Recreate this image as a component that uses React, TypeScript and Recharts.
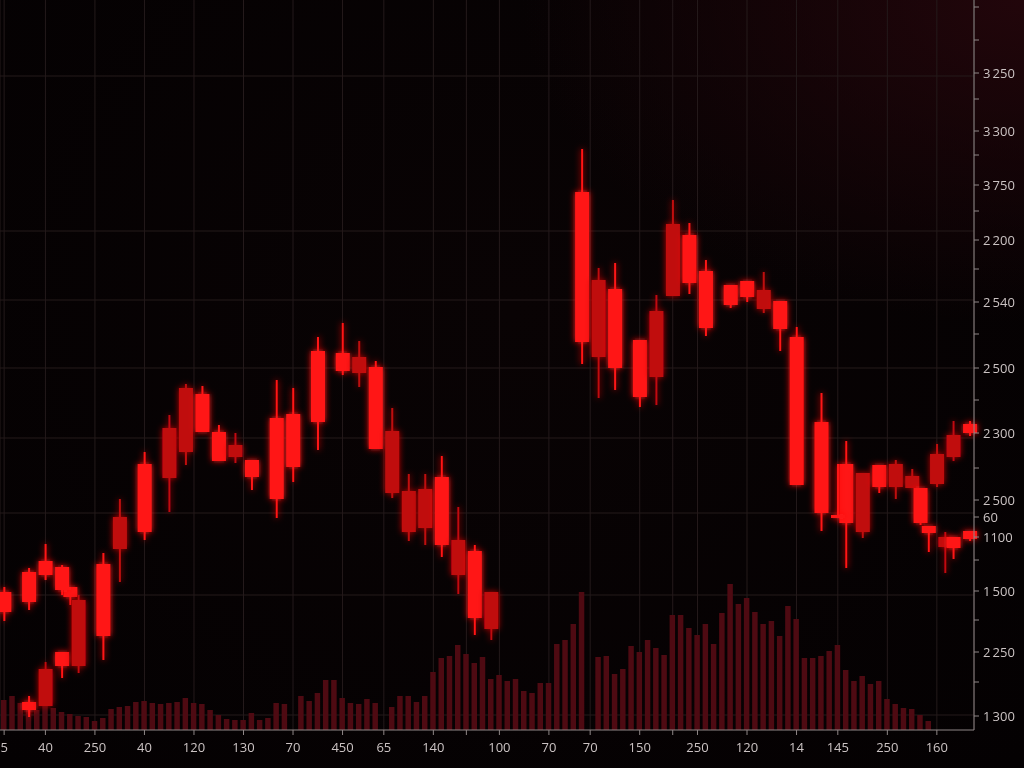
import React from "react";
import { ComposedChart, Bar, XAxis, YAxis, CartesianGrid } from "recharts";

// 118 time slots share one category axis (volume prints + candles)
const SLOT_COUNT = 118;

// volume per slot, null where nothing printed
const volume: (number | null)[] = [
  30, 34, 27, 24, 20, 24, 22, 18, 16, 14, 13, 9, 12, 21, 23, 24, 28, 29, 27, 26,
  27, 28, 32, 27, 26, 20, 15, 11, 10, 10, 17, 10, 12, 27, 26, null, 34, 29, 37, 50,
  50, 32, 27, 26, 31, 27, null, 23, 34, 34, 28, 34, 58, 72, 74, 85, 76, 67, 73, 51,
  55, 49, 51, 39, 37, 47, 47, 86, 90, 106, 138, null, 73, 74, 56, 61, 84, 78, 90, 82,
  75, 115, 115, 102, 95, 106, 86, 117, 146, 126, 132, 118, 106, 109, 94, 124, 111, 72, 72, 74,
  79, 85, 60, 49, 54, 46, 49, 31, 26, 22, 21, 15, 9, null, null, null, null, null,
];

// candles: slot, track (two overlapping tracks), open, close, high, low, tone
const candleSlot = [
  3, 5, 7, 8, 9, 12, 14, 17, 20, 22, 24, 26, 28, 30, 33, 35, 38, 41, 43, 45,
  47, 49, 51, 53, 55, 57, 59, 70, 72, 74, 77, 79, 81, 83, 85, 88, 90, 92, 94, 96,
  99, 102, 104, 106, 108, 110, 113, 115, 117,
  0, 3, 5, 7, 101, 111, 112, 114, 115, 117,
];
const candleTrack = [
  "b", "b", "b", "b", "b", "b", "b", "b", "b", "b", "b", "b", "b", "b", "b", "b", "b", "b", "b", "b",
  "b", "b", "b", "b", "b", "b", "b", "b", "b", "b", "b", "b", "b", "b", "b", "b", "b", "b", "b", "b",
  "b", "b", "b", "b", "b", "b", "b", "b", "b",
  "a", "a", "a", "a", "a", "a", "a", "a", "a", "a",
];
const candleOpen = [
  28, 61, 78, 143, 130, 166, 213, 266, 302, 342, 336, 298, 285, 270, 312, 316, 379, 377, 373, 363,
  299, 239, 241, 253, 190, 179, 138, 538, 450, 441, 390, 419, 506, 495, 459, 445, 449, 440, 429, 393,
  308, 266, 257, 265, 266, 254, 276, 295, 306,
  138, 158, 169, 163, 215, 242, 204, 193, 193, 199,
];
const candleClose = [
  20, 24, 64, 133, 64, 94, 181, 198, 252, 278, 298, 269, 273, 253, 231, 263, 308, 359, 357, 281,
  237, 198, 202, 185, 155, 112, 101, 388, 373, 362, 333, 353, 434, 447, 402, 425, 433, 421, 401, 245,
  217, 207, 198, 243, 243, 242, 246, 273, 297,
  118, 128, 155, 140, 212, 207, 197, 183, 182, 191,
];
const candleHigh = [
  34, 68, 78, 143, 135, 177, 231, 278, 315, 346, 344, 305, 297, 270, 350, 342, 393, 407, 389, 369,
  322, 256, 256, 274, 223, 185, 138, 581, 462, 467, 390, 435, 530, 507, 470, 445, 449, 458, 429, 403,
  337, 289, 257, 265, 270, 261, 286, 309, 309,
  143, 162, 186, 165, 266, 242, 204, 198, 193, 199,
];
const candleLow = [
  13, 24, 52, 125, 57, 70, 148, 190, 218, 265, 298, 269, 267, 240, 212, 248, 280, 355, 343, 281,
  232, 189, 185, 173, 136, 95, 90, 366, 332, 340, 323, 325, 434, 436, 394, 422, 428, 417, 379, 245,
  199, 162, 192, 237, 231, 242, 243, 269, 294,
  109, 120, 150, 135, 212, 205, 178, 157, 171, 189,
];
const candleHot = [
  1, 0, 1, 1, 0, 1, 0, 1, 0, 0, 1, 1, 0, 1, 1, 1, 1, 1, 0, 1,
  0, 0, 0, 1, 0, 1, 0, 1, 0, 1, 1, 0, 0, 1, 1, 1, 1, 0, 1, 1,
  1, 1, 0, 1, 0, 0, 0, 0, 1,
  1, 1, 1, 1, 1, 1, 1, 0, 1, 1,
];

// bottom axis: slot of each tick and its label ("" = bare tick)
const xTickSlots = [0, 5, 11, 17, 23, 29, 35, 41, 46, 52, 56, 60, 66, 71, 77, 81, 84, 90, 96, 101, 107, 113];
const xTickLabels = [
  "5", "40", "250", "40", "120", "130", "70", "450", "65", "140", "",
  "100", "70", "70", "150", "", "250", "120", "14", "145", "250", "160",
];

// right price axis (labels as printed; "" = minor tick)
const priceTickValues = [
  723, 690, 657, 631, 599, 575, 545, 519, 490, 461, 428, 396, 362, 330, 297, 262,
  230, 213, 193, 170, 139, 110, 78, 48, 14,
];
const priceTickLabels = [
  "", "", "3\u2009250", "", "3\u2009300", "", "3\u2009750", "", "2\u2009200", "", "2\u2009540", "", "2\u2009500", "", "2\u2009300", "",
  "2\u2009500", "60", "1100", "", "1\u2009500", "", "2\u2009250", "", "1\u2009300",
];
const gridPrices = [654, 499, 430, 362, 292, 217, 135, 15];

const HOT = "#ff1414";
const DIM = "#c00a11";
const AXIS = "#8f8787";
const LABEL = "#cbc3c3";

type Candle = { open: number; close: number; high: number; low: number; hot: boolean };

const rows = Array.from({ length: SLOT_COUNT }, (_, slot) => {
  const row: { slot: number; vol: number | null; a: Candle | null; b: Candle | null } = {
    slot,
    vol: volume[slot],
    a: null,
    b: null,
  };
  return row;
});
candleSlot.forEach((slot, i) => {
  const c = {
    open: candleOpen[i],
    close: candleClose[i],
    high: candleHigh[i],
    low: candleLow[i],
    hot: candleHot[i] === 1,
  };
  if (candleTrack[i] === "a") rows[slot].a = c;
  else rows[slot].b = c;
});

const makeCandle = (key: "a" | "b") => (props: any) => {
  const c: Candle | null = props.payload?.[key];
  if (!c || props.height == null || props.y == null) return <g />;
  const top = Math.min(props.y, props.y + props.height);
  const span = Math.abs(props.height);
  const px = (v: number) => top + ((c.high - v) / (c.high - c.low)) * span;
  const cx = props.x + props.width / 2;
  const bodyTop = px(Math.max(c.open, c.close));
  const bodyBottom = px(Math.min(c.open, c.close));
  const color = c.hot ? HOT : DIM;
  return (
    <g filter="url(#candleGlow)">
      <rect x={cx - 1} y={top} width={2} height={span} fill={color} />
      <rect x={cx - 7} y={bodyTop} width={14} height={Math.max(bodyBottom - bodyTop, 2)} fill={color} />
    </g>
  );
};

const tickFont = { fill: LABEL, fontSize: 13, fontFamily: "'Open Sans', sans-serif" };

export default function App() {
  return (
    <div
      style={{
        position: "fixed",
        left: 0,
        top: 0,
        width: 1024,
        height: 768,
        overflow: "hidden",
        background: "radial-gradient(ellipse 70% 60% at 100% 0%, #22060b 0%, #12040700 70%), radial-gradient(ellipse at 50% 40%, #090304 0%, #040102 100%)",
      }}
    >
      <ComposedChart width={1024} height={768} data={rows} margin={{ top: 0, right: 0, bottom: 0, left: 0 }}>
        <defs>
          <filter id="candleGlow" filterUnits="userSpaceOnUse" x={-50} y={-50} width={1124} height={868}>
            <feGaussianBlur stdDeviation={3} result="blur" />
            <feMerge>
              <feMergeNode in="blur" />
              <feMergeNode in="SourceGraphic" />
            </feMerge>
          </filter>
        </defs>
        <CartesianGrid xAxisId="main" yAxisId="price" stroke="#241a1b" horizontalValues={gridPrices} />
        <XAxis
          xAxisId="main"
          dataKey="slot"
          type="category"
          ticks={xTickSlots}
          interval={0}
          height={38}
          tickSize={5}
          tickMargin={8}
          stroke={AXIS}
          tick={tickFont}
          tickFormatter={(v: number) => xTickLabels[xTickSlots.indexOf(v)] ?? ""}
        />
        <XAxis xAxisId="ta" dataKey="slot" type="category" hide />
        <XAxis xAxisId="tb" dataKey="slot" type="category" hide />
        <YAxis
          yAxisId="price"
          orientation="right"
          type="number"
          domain={[0, 730]}
          allowDataOverflow
          ticks={priceTickValues}
          interval={0}
          width={50}
          tickSize={5}
          tickMargin={4}
          stroke={AXIS}
          tick={tickFont}
          tickFormatter={(v: number) => priceTickLabels[priceTickValues.indexOf(v)] ?? ""}
        />
        <YAxis yAxisId="vol" type="number" domain={[0, 730]} hide />
        <Bar xAxisId="main" yAxisId="vol" dataKey="vol" fill="#4e0a12" barSize={5.5} isAnimationActive={false} />
        <Bar
          xAxisId="tb"
          yAxisId="price"
          dataKey={(d: any) => (d.b ? [d.b.low, d.b.high] : null)}
          shape={makeCandle("b")}
          isAnimationActive={false}
        />
        <Bar
          xAxisId="ta"
          yAxisId="price"
          dataKey={(d: any) => (d.a ? [d.a.low, d.a.high] : null)}
          shape={makeCandle("a")}
          isAnimationActive={false}
        />
      </ComposedChart>
    </div>
  );
}
